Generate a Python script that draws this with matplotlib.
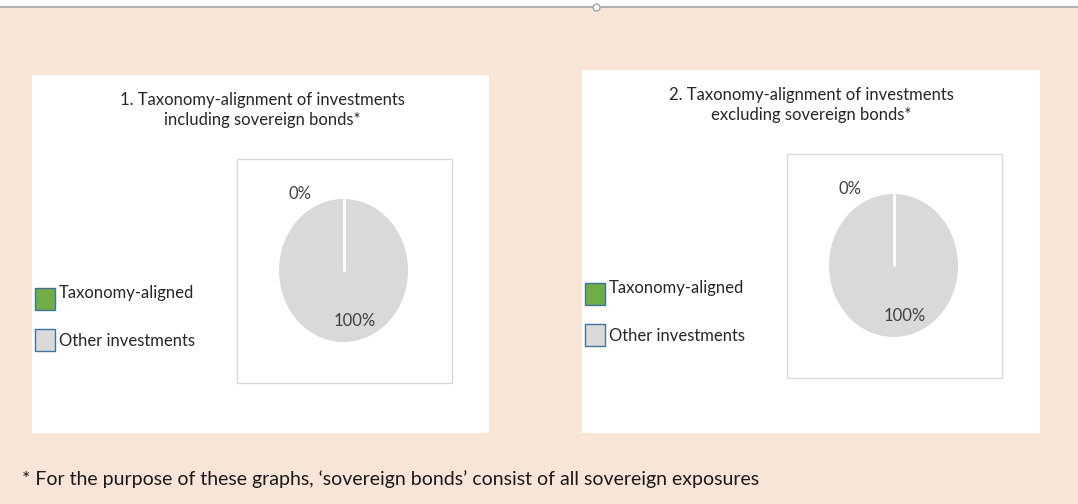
import numpy as np
import matplotlib.pyplot as plt
from matplotlib.patches import Rectangle

plt.rcParams['font.family'] = ['Lato', 'DejaVu Sans']

categories = ["Taxonomy-aligned", "Other investments"]
colors = ["#70AD47", "#D9D9D9"]
titles = ["1. Taxonomy-alignment of investments\nincluding sovereign bonds*",
          "2. Taxonomy-alignment of investments\nexcluding sovereign bonds*"]
incl_sov = [0, 100]
excl_sov = [0, 100]
footnote = "* For the purpose of these graphs, \u2018sovereign bonds\u2019 consist of all sovereign exposures"

W, H = 1078, 504
fig = plt.figure(figsize=(W / 100, H / 100), dpi=100)
fig.patch.set_facecolor("#F9E4D8")

# background axes in pixel coordinates
bg = fig.add_axes([0, 0, 1, 1])
bg.set_xlim(0, W)
bg.set_ylim(H, 0)
bg.axis("off")
bg.add_patch(Rectangle((0, 0), W, 7, facecolor="white", edgecolor="none"))
bg.plot([0, W], [7, 7], color="#A6A6A6", lw=1.2)
bg.plot([596], [7], marker="o", ms=5, mfc="white", mec="#A6A6A6", mew=1)


def px_axes(x0, y0, x1, y1):
    return fig.add_axes([x0 / W, 1 - y1 / H, (x1 - x0) / W, (y1 - y0) / H])


panels = [
    dict(values=incl_sov, title=titles[0], panel=(32, 75, 489, 433), box=(237, 159, 452, 383),
         pie=(279, 199, 408, 342), title_xy=(262, 110), leg=(35, 288)),
    dict(values=excl_sov, title=titles[1], panel=(582, 70, 1040, 433), box=(787, 154, 1002, 378),
         pie=(829, 194, 958, 337), title_xy=(811, 105), leg=(585, 283)),
]

for p in panels:
    x0, y0, x1, y1 = p["panel"]
    bg.add_patch(Rectangle((x0, y0), x1 - x0, y1 - y0, facecolor="white", edgecolor="none"))
    bx0, by0, bx1, by1 = p["box"]
    bg.add_patch(Rectangle((bx0, by0), bx1 - bx0, by1 - by0, facecolor="none",
                           edgecolor="#D9D9D9", lw=1))
    bg.text(p["title_xy"][0], p["title_xy"][1], p["title"], ha="center", va="center",
            fontsize=12, color="#262626", linespacing=1.25)

    # legend
    lx, ly = p["leg"]
    for i, cat in enumerate(categories):
        yy = ly + i * 41
        bg.add_patch(Rectangle((lx, yy), 20, 22, facecolor=colors[i], edgecolor="#41719C", lw=1))
        bg.text(lx + 24, yy + (5 if i == 0 else 12), cat, ha="left", va="center",
                fontsize=12, color="#262626")

    # pie
    ax = px_axes(*p["pie"])
    ax.pie(p["values"], colors=colors, startangle=90, counterclock=False,
           wedgeprops=dict(edgecolor="none"))
    # slice boundaries (white separators)
    fracs = np.cumsum([0] + list(p["values"])) / sum(p["values"])
    for f in fracs[:-1]:
        ang = np.deg2rad(90 - 360 * f)
        ax.plot([0, np.cos(ang)], [0, np.sin(ang)], color="white", lw=1.8,
                solid_capstyle="butt")
    ax.set_aspect("auto")
    ax.set_xlim(-1, 1)
    ax.set_ylim(-1, 1)
    ax.axis("off")
    ax.text(-0.68, 1.07, "%d%%" % p["values"][0], ha="center", va="center",
            fontsize=12, color="#404040", clip_on=False)
    ax.text(0.17, -0.70, "%d%%" % p["values"][1], ha="center", va="center",
            fontsize=12, color="#404040")

bg.text(22, 479, footnote, ha="left", va="center", fontsize=14, color="#1A1A1A")

fig.savefig("out.png", dpi=100, facecolor=fig.get_facecolor())
